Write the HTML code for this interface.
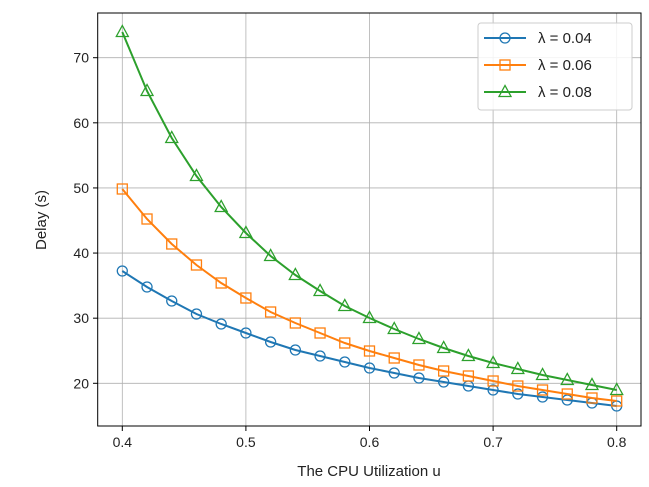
<!DOCTYPE html>
<html><head><style>body{margin:0;background:#fff}svg{display:block}</style></head><body>
<svg id="s" width="649" height="487" xmlns="http://www.w3.org/2000/svg" font-family="Liberation Sans, DejaVu Sans, sans-serif">
<g stroke="#b0b0b0" stroke-width="0.8" id="grid"></g>
<g id="ticks" font-size="14" fill="#222"></g>
<g id="series"></g>
<rect x="97.7" y="13" width="543.3" height="413" fill="none" stroke="#000" stroke-width="1"/>
<g>
<rect x="478" y="23" width="154" height="87" rx="3" fill="#fff" fill-opacity="0.85" stroke="#ccc"/>
</g>
<g id="leg" font-size="15" fill="#222"></g>
<text x="369" y="476" font-size="15" text-anchor="middle" fill="#222">The CPU Utilization u</text>
<text transform="translate(46,220) rotate(-90)" font-size="15" text-anchor="middle" fill="#222">Delay (s)</text>
</svg>
<script>
var ns="http://www.w3.org/2000/svg",g=document.getElementById('grid'),t=document.getElementById('ticks');
function el(p,n,a,txt){var e=document.createElementNS(ns,n);for(var k in a)e.setAttribute(k,a[k]);if(txt)e.textContent=txt;p.appendChild(e);return e;}
var xs=[0.4,0.5,0.6,0.7,0.8];
xs.forEach(function(v,i){var x=122.3+i*123.6;el(g,'line',{x1:x,x2:x,y1:13,y2:426});el(t,'line',{x1:x,x2:x,y1:426,y2:431,stroke:'#000'});el(t,'text',{x:x,y:447,'text-anchor':'middle'},v.toFixed(1));});
[20,30,40,50,60,70].forEach(function(v){var y=383.3-(v-20)*6.512;el(g,'line',{x1:97.7,x2:641,y1:y,y2:y});el(t,'line',{x1:93,x2:97.7,y1:y,y2:y,stroke:'#000'});el(t,'text',{x:89,y:y+5,'text-anchor':'end'},v);});
var D=[
['#1f77b4','o',[271,287,301,314,324,333,342,350,356,362,368,373,378,382,386,390,394,397,400,403,406]],
['#ff7f0e','s',[189,219,244,265,283,298,312,323,333,343,351,358,365,371,376,381,386,390,394,398,401]],
['#2ca02c','t',[32,91,138,176,207,233,256,275,291,306,318,329,339,348,356,363,369,375,380,385,390]]];
var S=document.getElementById('series'),L=document.getElementById('leg');
function mk(p,c,m,x,y){var a={fill:'none',stroke:c,'stroke-width':1.3};
if(m=='o'){a.cx=x;a.cy=y;a.r=5;el(p,'circle',a);}
else if(m=='s'){a.x=x-5;a.y=y-5;a.width=10;a.height=10;el(p,'rect',a);}
else {a.points=(x)+','+(y-6.5)+' '+(x-6)+','+(y+4.5)+' '+(x+6)+','+(y+4.5);el(p,'polygon',a);}}
D.forEach(function(d,j){var pts=d[2].map(function(y,i){return (122.3+i*24.72)+','+y;}).join(' ');
el(S,'polyline',{points:pts,fill:'none',stroke:d[0],'stroke-width':2});
d[2].forEach(function(y,i){mk(S,d[0],d[1],122.3+i*24.72,y);});
var ly=38+j*27;el(L,'line',{x1:484,x2:526,y1:ly,y2:ly,stroke:d[0],'stroke-width':2});mk(L,d[0],d[1],505,ly);
el(L,'text',{x:538,y:ly+5},['λ = 0.04','λ = 0.06','λ = 0.08'][j]);});
</script>
</body></html>
